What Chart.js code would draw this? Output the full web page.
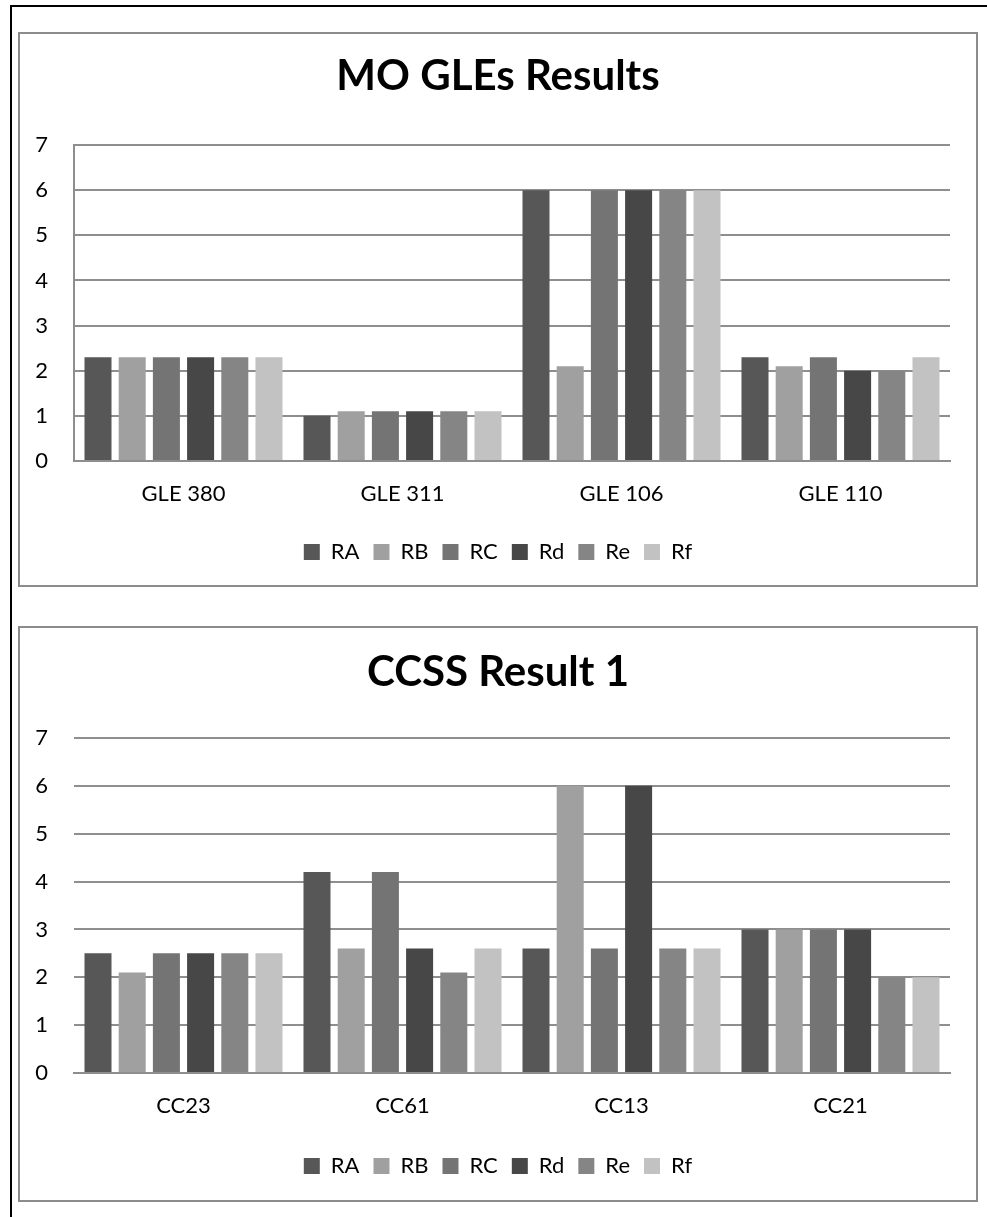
<!DOCTYPE html>
<html>
<head>
<meta charset="utf-8">
<script src="https://cdn.jsdelivr.net/npm/chart.js@4"></script>
<style>
  html, body { margin: 0; padding: 0; background: #fff; }
  body { width: 987px; height: 1217px; position: relative; overflow: hidden; }
  #outer { position: absolute; left: 10px; top: 5px; width: 990px; height: 1230px; border-top: 2px solid #000; border-left: 2px solid #000; }
  .box { position: absolute; left: 18px; width: 956px; border: 2px solid #8c8c8c; box-sizing: content-box; }
  #box1 { top: 32px; height: 551px; }
  #box2 { top: 626px; height: 572px; }
  .cw { position: absolute; left: 20px; width: 956px; }
  #cw1 { top: 34px; height: 553px; }
  #cw2 { top: 628px; height: 574px; }
</style>
</head>
<body>
<div id="outer"></div>
<div class="box" id="box1"></div>
<div class="box" id="box2"></div>
<div class="cw" id="cw1"><canvas id="c1"></canvas></div>
<div class="cw" id="cw2"><canvas id="c2"></canvas></div>
<script>
// ---- data ----
const seriesNames = ["RA", "RB", "RC", "Rd", "Re", "Rf"];
const seriesColors = ["#575757", "#a0a0a0", "#747474", "#474747", "#858585", "#c2c2c2"];

const chart1Title = "MO GLEs Results";
const chart1Categories = ["GLE 380", "GLE 311", "GLE 106", "GLE 110"];
const chart1RA = [2.3, 1.0, 6.0, 2.3];
const chart1RB = [2.3, 1.1, 2.1, 2.1];
const chart1RC = [2.3, 1.1, 6.0, 2.3];
const chart1Rd = [2.3, 1.1, 6.0, 2.0];
const chart1Re = [2.3, 1.1, 6.0, 2.0];
const chart1Rf = [2.3, 1.1, 6.0, 2.3];

const chart2Title = "CCSS Result 1";
const chart2Categories = ["CC23", "CC61", "CC13", "CC21"];
const chart2RA = [2.5, 4.2, 2.6, 3.0];
const chart2RB = [2.1, 2.6, 6.0, 3.0];
const chart2RC = [2.5, 4.2, 2.6, 3.0];
const chart2Rd = [2.5, 2.6, 6.0, 3.0];
const chart2Re = [2.5, 2.1, 2.6, 2.0];
const chart2Rf = [2.5, 2.6, 2.6, 2.0];

const yTickValues = [0, 1, 2, 3, 4, 5, 6, 7];

// ---- build ----
const FONT = "Lato, 'Open Sans', sans-serif";
const GRID = "#8e8e8e";

function makeChart(id, title, categories, seriesValues, opts) {
  const datasets = seriesNames.map((n, i) => ({
    label: n,
    data: seriesValues[i],
    backgroundColor: seriesColors[i],
    borderWidth: 0,
    categoryPercentage: 0.937,
    barPercentage: 0.79
  }));
  return new Chart(document.getElementById(id), {
    type: 'bar',
    data: { labels: categories, datasets },
    options: {
      responsive: true,
      maintainAspectRatio: false,
      animation: false,
      events: [],
      layout: { padding: { left: 0, right: 0, top: 0, bottom: opts.padBottom } },
      plugins: {
        title: {
          display: true,
          text: title,
          color: '#000',
          font: { family: FONT, size: 42, weight: 'bold', lineHeight: 1.2 },
          padding: { top: opts.titleTop, bottom: opts.titleBottom }
        },
        legend: {
          display: true,
          position: 'bottom',
          labels: {
            color: '#000',
            font: { family: FONT, size: 22 },
            boxWidth: 16,
            boxHeight: 16,
            padding: 14
          }
        },
        tooltip: { enabled: false }
      },
      scales: {
        x: {
          grid: { display: false, drawTicks: false },
          border: { display: true, color: GRID, width: 2 },
          ticks: { color: '#000', font: { family: FONT, size: 22 }, padding: 20, maxRotation: 0 },
          afterFit: (s) => { s.height = opts.xHeight; }
        },
        y: {
          min: 0, max: 7,
          afterBuildTicks: (s) => { s.ticks = yTickValues.map(v => ({ value: v })); },
          grid: { color: GRID, lineWidth: 2, drawTicks: false },
          border: { display: opts.yBorder, color: GRID, width: 2 },
          ticks: { color: '#000', font: { family: FONT, size: 22 }, padding: 26 },
          afterFit: (s) => { s.width = 54; }
        },
        spacer: {
          type: 'linear',
          position: 'right',
          display: true,
          min: 0, max: 7,
          grid: { display: false, drawTicks: false },
          border: { display: false },
          ticks: { display: false },
          afterFit: (s) => { s.width = 26; }
        }
      }
    }
  });
}

makeChart('c1', chart1Title, chart1Categories,
  [chart1RA, chart1RB, chart1RC, chart1Rd, chart1Re, chart1Rf],
  { titleTop: 17.5, titleBottom: 43.1, xHeight: 66, padBottom: 14, yBorder: true });

makeChart('c2', chart2Title, chart2Categories,
  [chart2RA, chart2RB, chart2RC, chart2Rd, chart2Re, chart2Rf],
  { titleTop: 18.8, titleBottom: 40.8, xHeight: 68, padBottom: 15, yBorder: false });
</script>
</body>
</html>
